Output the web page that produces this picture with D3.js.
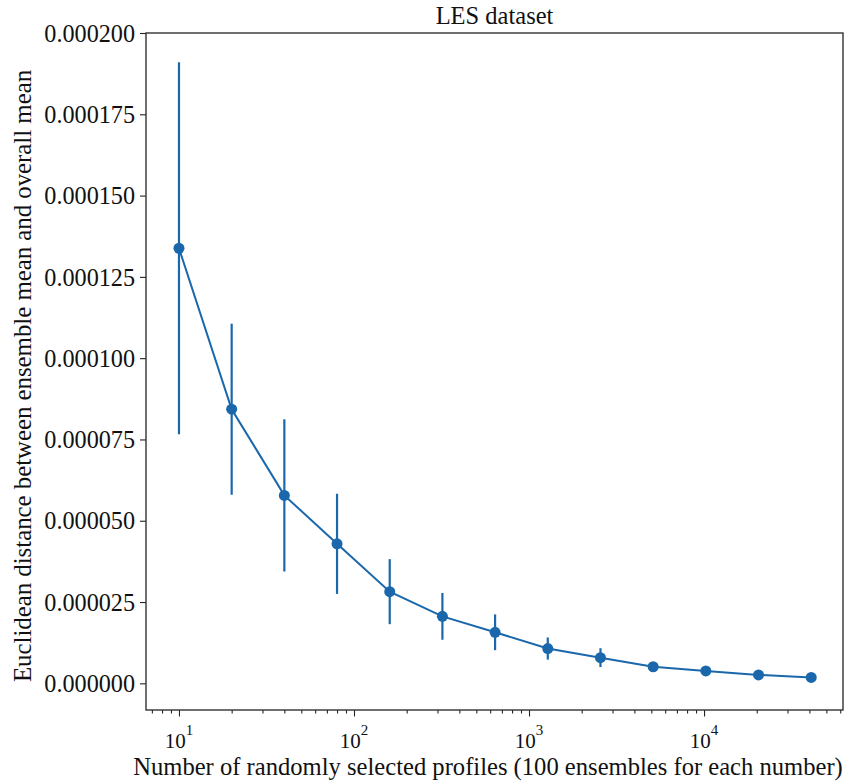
<!DOCTYPE html>
<html>
<head>
<meta charset="utf-8">
<script src="https://cdn.jsdelivr.net/npm/d3@7"></script>
<style>
  body { margin: 0; background: #fff; }
  svg { display: block; }
  text { font-family: "Liberation Serif", "Times New Roman", serif; fill: #111; }
</style>
</head>
<body>
<svg id="chart" width="864" height="784"></svg>
<script>
// Data
const sampleSizes = [10, 20, 40, 80, 160, 320, 640, 1280, 2560, 5120, 10240, 20480, 40960];
const meanDistance = [133.8e-6, 84.3e-6, 57.8e-6, 42.9e-6, 28.2e-6, 20.6e-6, 15.7e-6, 10.7e-6, 7.9e-6, 5.1e-6, 3.8e-6, 2.6e-6, 1.8e-6];
const errorHalf = [57.2e-6, 26.3e-6, 23.4e-6, 15.4e-6, 10.0e-6, 7.2e-6, 5.5e-6, 3.4e-6, 2.9e-6, 0.9e-6, 0.5e-6, 0.3e-6, 0.2e-6];
const yTicks = [0, 25e-6, 50e-6, 75e-6, 100e-6, 125e-6, 150e-6, 175e-6, 200e-6];
const xMajorTicks = [10, 100, 1000, 10000];
const titleText = "LES dataset";
const xLabel = "Number of randomly selected profiles (100 ensembles for each number)";
const yLabel = "Euclidean distance between ensemble mean and overall mean";

const color = "#1a68ab";
const margin = { left: 146, right: 864 - 843, top: 33, bottom: 784 - 710 };
const W = 864, H = 784;
const svg = d3.select("#chart");

const x = d3.scaleLog().domain([6.48, 62230]).range([margin.left, W - margin.right]);
const y = d3.scaleLinear().domain([-8.2e-6, 200e-6]).range([H - margin.bottom, margin.top]);

const g = svg.append("g");

// minor ticks
const minorTicks = [];
for (let e = 0; e <= 4; e++) {
  for (let m = 2; m <= 9; m++) {
    const v = m * Math.pow(10, e);
    if (v >= x.domain()[0] && v <= x.domain()[1]) minorTicks.push(v);
  }
}

const xAxisG = g.append("g").attr("transform", `translate(0,${H - margin.bottom})`);
xAxisG.call(d3.axisBottom(x).tickValues(minorTicks).tickSize(3.5).tickFormat(""));
xAxisG.append("g").call(d3.axisBottom(x).tickValues(xMajorTicks).tickSize(6.5).tickFormat(""));
xAxisG.selectAll(".domain").remove();
xAxisG.selectAll("line").attr("stroke", "#222").attr("stroke-width", 1.1);

// x tick labels with superscripts
xMajorTicks.forEach(v => {
  const t = g.append("text")
    .attr("x", x(v))
    .attr("y", 748)
    .attr("text-anchor", "middle")
    .style("font-size", "21px");
  t.append("tspan").text("10");
  t.append("tspan").attr("dy", -13).style("font-size", "15px").text(String(Math.round(Math.log10(v))));
});

// y axis
const yAxisG = g.append("g").attr("transform", `translate(${margin.left},0)`);
yAxisG.call(d3.axisLeft(y).tickValues(yTicks).tickSize(6).tickPadding(5).tickFormat(d => d.toFixed(6)));
yAxisG.select(".domain").remove();
yAxisG.selectAll("line").attr("stroke", "#222").attr("stroke-width", 1.1);
yAxisG.selectAll("text")
  .style("font-size", "24.2px")
  .style("font-family", '"Liberation Serif", "Times New Roman", serif')
  .attr("fill", "#111")
  .attr("dy", "0.34em");

// frame
g.append("rect")
  .attr("x", margin.left).attr("y", margin.top)
  .attr("width", W - margin.left - margin.right)
  .attr("height", H - margin.top - margin.bottom)
  .attr("fill", "none").attr("stroke", "#333").attr("stroke-width", 1.4);

// error bars
const data = sampleSizes.map((n, i) => ({ n, m: meanDistance[i], e: errorHalf[i] }));
g.append("g").selectAll("line").data(data).join("line")
  .attr("x1", d => x(d.n)).attr("x2", d => x(d.n))
  .attr("y1", d => y(d.m - d.e)).attr("y2", d => y(d.m + d.e))
  .attr("stroke", color).attr("stroke-width", 2.2);

// line
g.append("path").datum(data)
  .attr("d", d3.line().x(d => x(d.n)).y(d => y(d.m)))
  .attr("fill", "none").attr("stroke", color).attr("stroke-width", 2);

// markers
g.append("g").selectAll("circle").data(data).join("circle")
  .attr("cx", d => x(d.n)).attr("cy", d => y(d.m)).attr("r", 5.5)
  .attr("fill", color);

// title
g.append("text")
  .attr("x", (margin.left + W - margin.right) / 2)
  .attr("y", 24)
  .attr("text-anchor", "middle")
  .style("font-size", "24.5px")
  .text(titleText);

// x label
g.append("text")
  .attr("x", 488)
  .attr("y", 775)
  .attr("text-anchor", "middle")
  .style("font-size", "24.6px")
  .text(xLabel);

// y label
g.append("text")
  .attr("transform", `translate(31,${376}) rotate(-90)`)
  .attr("text-anchor", "middle")
  .style("font-size", "24.8px")
  .text(yLabel);
</script>
</body>
</html>
